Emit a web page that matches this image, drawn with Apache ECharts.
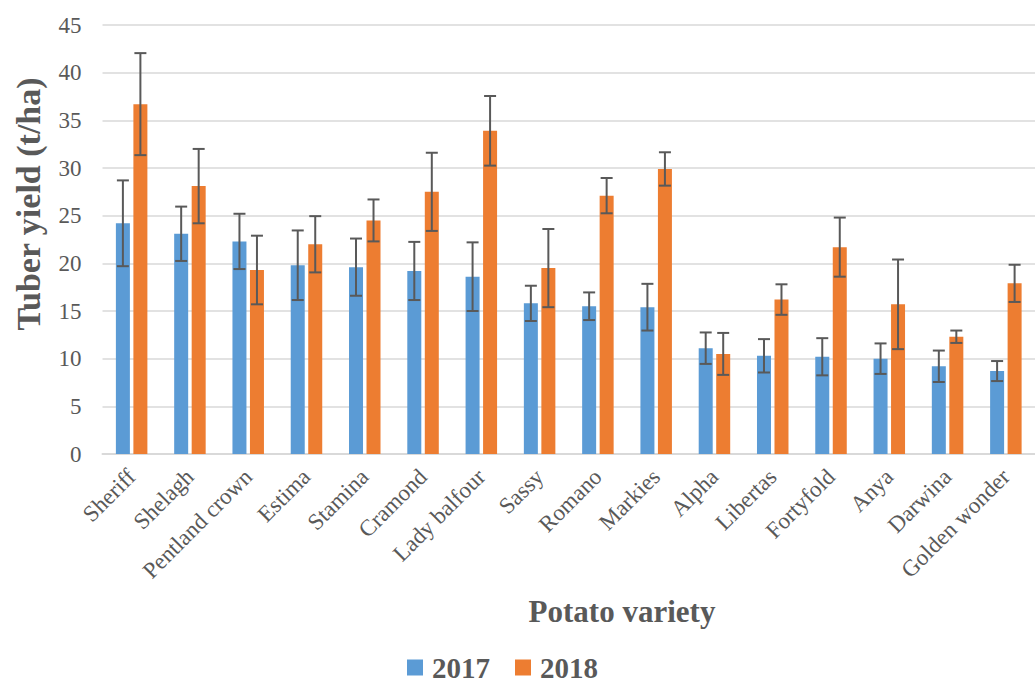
<!DOCTYPE html>
<html>
<head>
<meta charset="utf-8">
<script src="https://cdn.jsdelivr.net/npm/echarts@6/dist/echarts.min.js"></script>
<style>html,body{margin:0;padding:0;background:#fff;}#c{width:1035px;height:686px;}</style>
</head>
<body>
<div id="c"></div>
<script>
const categories = ["Sheriff","Shelagh","Pentland crown","Estima","Stamina","Cramond","Lady balfour","Sassy","Romano","Markies","Alpha","Libertas","Fortyfold","Anya","Darwina","Golden wonder"];
const yield2017 = [24.2,23.1,22.3,19.8,19.6,19.2,18.6,15.8,15.5,15.4,11.1,10.3,10.2,10.0,9.2,8.7];
const err2017 =   [4.5,2.85,2.9,3.65,3.0,3.05,3.6,1.85,1.45,2.45,1.65,1.75,1.95,1.6,1.65,1.05];
const yield2018 = [36.7,28.1,19.3,22.0,24.5,27.5,33.9,19.5,27.1,29.9,10.5,16.2,21.7,15.7,12.3,17.9];
const err2018 =   [5.35,3.9,3.6,2.95,2.2,4.1,3.65,4.1,1.85,1.75,2.2,1.6,3.1,4.7,0.65,1.95];
const yTicks = {min:0, max:45, interval:5};

const FONT = "'Liberation Serif','Times New Roman',serif";
const TXT = '#595959';
const BAR_W = 14, BAR_GAP = 3.5;

function errSeries(name, vals, errs, sign){
  return {
    type:'custom', name:name+' err', silent:true, z:5,
    data: categories.map((c,i)=>[i, vals[i], errs[i]]),
    renderItem: function(params, api){
      const i = api.value(0), v = api.value(1), e = api.value(2);
      const off = sign*(BAR_W+BAR_GAP)/2;
      const top = api.coord([i, v+e]);
      const bot = api.coord([i, v-e]);
      const x = top[0]+off;
      const cap = 6;
      const st = {stroke:'#595959', lineWidth:2, fill:null};
      return {type:'group', children:[
        {type:'line', shape:{x1:x,y1:top[1],x2:x,y2:bot[1]}, style:st},
        {type:'line', shape:{x1:x-cap,y1:top[1],x2:x+cap,y2:top[1]}, style:st},
        {type:'line', shape:{x1:x-cap,y1:bot[1],x2:x+cap,y2:bot[1]}, style:st}
      ]};
    }
  };
}

const chart = echarts.init(document.getElementById('c'), null, {renderer:'svg'});
chart.setOption({
  animation:false,
  backgroundColor:'#fff',
  title:[{
    text:'Potato variety', left:617, top:589, textAlign:'center',
    textStyle:{fontFamily:FONT, fontWeight:'bold', fontSize:31, lineHeight:34, color:TXT}
  }],
  graphic:[{
    type:'text', x:28, y:204, rotation:Math.PI/2,
    style:{text:'Tuber yield (t/ha)', fontFamily:FONT, fontWeight:'bold', fontSize:34, fill:TXT, align:'center', verticalAlign:'middle'}
  }],
  legend:{
    data:['2017','2018'], left:407, top:653, itemWidth:16, itemHeight:16, itemGap:25,
    icon:'rect', padding:0,
    textStyle:{fontFamily:FONT, fontWeight:'bold', fontSize:29, lineHeight:24, color:TXT, padding:[0,0,0,4]}
  },
  grid:{left:102.5, right:-15, top:25, bottom:232, containLabel:false},
  xAxis:{
    type:'category', data:categories,
    axisLine:{lineStyle:{color:'#d9d9d9', width:2}},
    axisTick:{show:false},
    axisLabel:{rotate:45, interval:0, margin:19, fontFamily:FONT, fontSize:23, color:TXT}
  },
  yAxis:{
    type:'value', min:yTicks.min, max:yTicks.max, interval:yTicks.interval,
    axisLine:{show:false}, axisTick:{show:false},
    splitLine:{lineStyle:{color:'#d9d9d9', width:1.5}},
    axisLabel:{margin:21, fontFamily:FONT, fontSize:23, color:TXT}
  },
  series:[
    {name:'2017', type:'bar', data:yield2017, barWidth:BAR_W, barGap:(BAR_GAP/BAR_W*100)+'%', itemStyle:{color:'#5B9BD5'}},
    {name:'2018', type:'bar', data:yield2018, barWidth:BAR_W, itemStyle:{color:'#ED7D31'}},
    errSeries('2017', yield2017, err2017, -1),
    errSeries('2018', yield2018, err2018, 1)
  ]
});
</script>
</body>
</html>
